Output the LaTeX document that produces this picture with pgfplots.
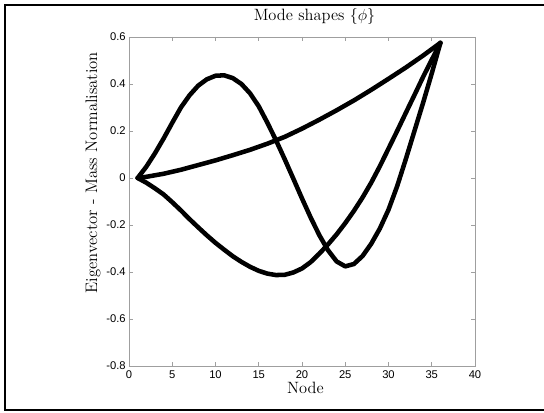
\documentclass[border=0pt]{standalone}
\usepackage{fontspec}
\usepackage{pgfplots}
\pgfplotsset{compat=1.18}
\newfontfamily\tickfont{Liberation Sans}
\pgfplotsset{modeline/.style={black,line width=3.4pt,line join=round,line cap=round,mark=none}}

\begin{document}
\begin{tikzpicture}[x=1pt,y=1pt]
\useasboundingbox (0,0) rectangle (408,309);
% outer frame (right edge falls outside the picture)
\draw[line width=1.5pt] (412,1.5) -- (3.75,1.5) -- (3.75,305.6) -- (412,305.6);
\begin{axis}[at={(96.75pt,34.5pt)},anchor=south west,scale only axis,
  width=259.5pt,height=246.75pt,
  xmin=0,xmax=40,ymin=-0.8,ymax=0.6,
  xtick={0,5,10,15,20,25,30,35,40},
  ytick={-0.8,-0.6,-0.4,-0.2,0,0.2,0.4,0.6},
  yticklabels={-0.8,-0.6,-0.4,-0.2,0,0.2,0.4,0.6},
  xticklabels={0,5,10,15,20,25,30,35,40},
  tick align=inside,major tick length=2.8pt,
  axis line style={draw=gray!75,line width=0.6pt},
  tick style={draw=gray!75,line width=0.6pt},
  ticklabel style={font=\tickfont\fontsize{8.4}{9}\selectfont},
  yticklabel style={xshift=1pt},
  /pgf/number format/assume math mode=true,
  title={Mode shapes $\{\phi\}$},
  title style={at={(rel axis cs:0.536,1)},anchor=base,yshift=6.5pt,
    font=\fontsize{12.3}{14}\selectfont},
  xlabel={Node},
  xlabel style={at={(rel axis cs:0.51,0)},anchor=base,yshift=-20.25pt,
    font=\fontsize{12.3}{14}\selectfont},
  ylabel={Eigenvector - Mass Normalisation},
  ylabel style={at={(rel axis cs:-0.104,0.588)},anchor=center,
    font=\fontsize{12.5}{14}\selectfont}]
\addplot[modeline] coordinates {(1,0) (2,0.005) (4,0.018) (6,0.035) (8,0.055)
  (10,0.075) (12,0.097) (14,0.12) (16,0.146) (18,0.175) (20,0.21) (22,0.248)
  (24,0.288) (26,0.33) (28,0.375) (30,0.422) (32,0.47) (34,0.521) (36,0.575)};
\addplot[modeline] coordinates {(1,0) (2,-0.02) (3,-0.044) (4,-0.07) (5,-0.103)
  (6,-0.138) (7,-0.175) (8,-0.21) (9,-0.244) (10,-0.276) (11,-0.305)
  (12,-0.333) (13,-0.357) (14,-0.378) (15,-0.395) (16,-0.407) (17,-0.413)
  (18,-0.412) (19,-0.402) (20,-0.385) (21,-0.358) (22,-0.322) (23,-0.283)
  (24,-0.24) (25,-0.192) (26,-0.14) (27,-0.083) (28,-0.02) (29,0.05)
  (30,0.125) (31,0.2) (32,0.277) (33,0.353) (34,0.43) (35,0.503) (36,0.575)};
\addplot[modeline] coordinates {(1,0) (2,0.048) (3,0.105) (4,0.168) (5,0.235)
  (6,0.30) (7,0.352) (8,0.393) (9,0.42) (10,0.435) (11,0.437) (12,0.425)
  (13,0.40) (14,0.36) (15,0.305) (16,0.235) (17,0.16) (18,0.08) (19,-0.003)
  (20,-0.087) (21,-0.168) (22,-0.243) (23,-0.307) (24,-0.355) (25,-0.376)
  (26,-0.366) (27,-0.332) (28,-0.28) (29,-0.215) (30,-0.135) (31,-0.035)
  (32,0.08) (33,0.2) (34,0.32) (35,0.445) (36,0.575)};
\end{axis}
\end{tikzpicture}
\end{document}
